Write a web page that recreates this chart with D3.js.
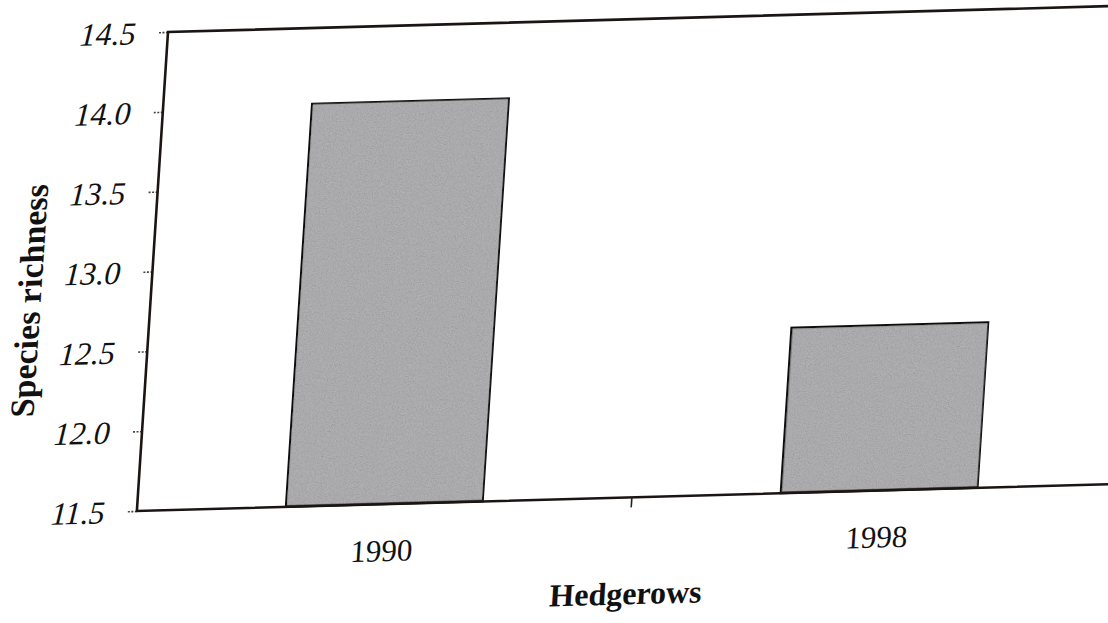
<!DOCTYPE html>
<html>
<head>
<meta charset="utf-8">
<script src="https://cdn.jsdelivr.net/npm/d3@7/dist/d3.min.js"></script>
<style>
  html, body { margin: 0; padding: 0; background: #fff; }
  svg { display: block; }
</style>
</head>
<body>
<div id="chart"></div>
<script>
// data
const categories = ["1990", "1998"];
const richness = [14.03, 12.54];
const yTicks = [11.5, 12.0, 12.5, 13.0, 13.5, 14.0, 14.5];

const width = 1108, height = 623;
const plotW = 990, plotH = 479;
const serif = "Liberation Serif";

const svg = d3.select("#chart").append("svg")
    .attr("width", width)
    .attr("height", height);

svg.append("rect").attr("width", width).attr("height", height).attr("fill", "#fff");

// speckled grey fill like the printed halftone
const defs = svg.append("defs");
const grain = defs.append("filter").attr("id", "grain")
    .attr("x", 0).attr("y", 0).attr("width", 1).attr("height", 1);
grain.append("feTurbulence")
    .attr("type", "fractalNoise").attr("baseFrequency", 0.85)
    .attr("numOctaves", 2).attr("seed", 3).attr("result", "noise");
grain.append("feColorMatrix").attr("in", "noise").attr("type", "matrix")
    .attr("values", "0 0 0 0 0  0 0 0 0 0  0 0 0 0 0  0 0 0 -1.6 1.05")
    .attr("result", "dots");
grain.append("feComposite").attr("in", "dots").attr("in2", "SourceGraphic")
    .attr("operator", "in").attr("result", "clipped");
grain.append("feComponentTransfer").attr("in", "clipped").attr("result", "soft")
  .append("feFuncA").attr("type", "linear").attr("slope", 0.35);
const merge = grain.append("feMerge");
merge.append("feMergeNode").attr("in", "SourceGraphic");
merge.append("feMergeNode").attr("in", "soft");

// the scan is slightly skewed, so the whole plot sits in a skewed group
const chart = svg.append("g")
    .attr("transform", "matrix(1,-0.0275,-0.065,1,168,32)");

const x = d3.scaleBand()
    .domain(categories)
    .range([0, plotW])
    .paddingInner(0.6)
    .paddingOuter(0.3);

const y = d3.scaleLinear()
    .domain([11.5, 14.5])
    .range([plotH, 0]);

// y axis with short dotted ticks
const yAxisG = chart.append("g")
    .attr("class", "axis y-axis")
    .call(d3.axisLeft(y)
      .tickValues(yTicks)
      .tickFormat(d3.format(".1f"))
      .tickSize(10)
      .tickSizeOuter(0)
      .tickPadding(22));
yAxisG.attr("font-family", null).attr("font-size", null);
yAxisG.select(".domain").remove();
yAxisG.selectAll(".tick line")
    .attr("stroke", "#444")
    .attr("stroke-width", 1.6)
    .attr("stroke-dasharray", "2,1.5");
yAxisG.selectAll(".tick text")
    .style("font-family", serif)
    .style("font-size", "32px")
    .style("font-style", "italic")
    .attr("fill", "#111")
    .attr("dy", "0.34em");

// x axis labels
const xAxisG = chart.append("g")
    .attr("class", "axis x-axis")
    .attr("transform", `translate(0,${plotH})`)
    .call(d3.axisBottom(x).tickSize(0).tickSizeOuter(0).tickPadding(35));
xAxisG.attr("font-family", null).attr("font-size", null);
xAxisG.select(".domain").remove();
xAxisG.selectAll(".tick text")
    .style("font-family", serif)
    .style("font-size", "31px")
    .attr("fill", "#111");

// bars
chart.selectAll(".bar")
    .data(categories)
    .join("rect")
    .attr("class", "bar")
    .attr("x", d => x(d))
    .attr("y", (d, i) => y(richness[i]))
    .attr("width", x.bandwidth())
    .attr("height", (d, i) => y(11.5) - y(richness[i]))
    .attr("fill", "#b1b0b2")
    .attr("filter", "url(#grain)")
    .attr("stroke", "#0c0c0c")
    .attr("stroke-width", 3);

// plot frame (right side falls outside the page)
chart.append("path")
    .attr("d", `M${plotW},0H0V${plotH}H${plotW}`)
    .attr("fill", "none")
    .attr("stroke", "#1a1512")
    .attr("stroke-width", 2.6);

// tick mark between the two categories
const midX = (x(categories[0]) + x(categories[1]) + x.bandwidth()) / 2;
chart.append("line")
    .attr("x1", midX).attr("x2", midX)
    .attr("y1", plotH).attr("y2", plotH + 10)
    .attr("stroke", "#222")
    .attr("stroke-width", 1.6);

// axis titles
chart.append("text")
    .attr("transform", `translate(-110,${plotH / 2 + 26}) rotate(-90)`)
    .attr("text-anchor", "middle")
    .style("font-family", serif)
    .style("font-weight", "bold")
    .style("font-size", "34px")
    .attr("fill", "#111")
    .text("Species richness");

chart.append("text")
    .attr("x", plotW / 2)
    .attr("y", plotH + 107)
    .attr("text-anchor", "middle")
    .style("font-family", serif)
    .style("font-weight", "bold")
    .style("font-size", "32px")
    .attr("fill", "#111")
    .text("Hedgerows");
</script>
</body>
</html>
